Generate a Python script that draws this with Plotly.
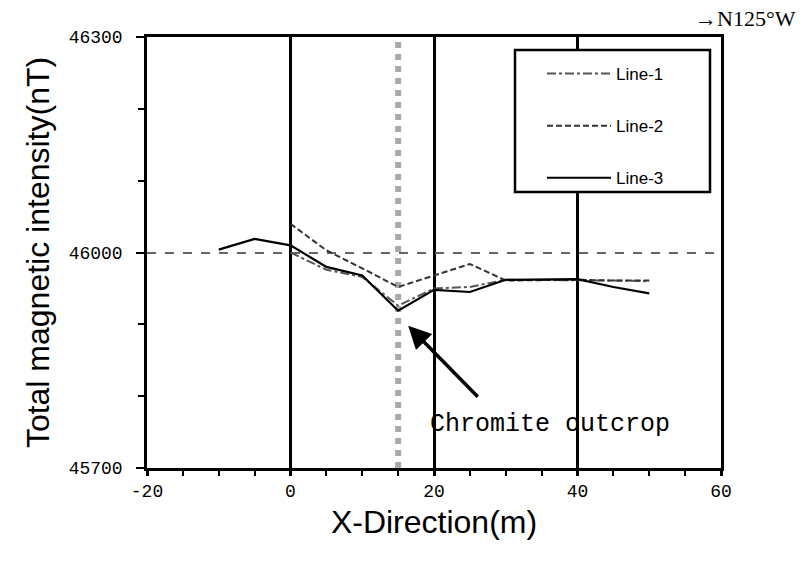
import plotly.graph_objects as go

# ---- data ----
x_line1 = [0, 5, 10, 15, 20, 25, 30, 35, 40, 45, 50]
y_line1 = [46000, 45976, 45966, 45926, 45950, 45952, 45962, 45962, 45962, 45961, 45960]

x_line2 = [0, 5, 10, 15, 20, 25, 30, 35, 40, 45, 50]
y_line2 = [46040, 46003, 45978, 45952, 45968, 45984, 45961, 45962, 45962, 45961, 45961]

x_line3 = [-10, -5, 0, 5, 10, 15, 20, 25, 30, 35, 40, 45, 50]
y_line3 = [46004, 46019, 46010, 45980, 45968, 45919, 45948, 45945, 45962, 45962, 45963, 45952, 45943]

series_names = ["Line-1", "Line-2", "Line-3"]
x_ticks = [-20, 0, 20, 40, 60]
y_ticks = [45700, 46000, 46300]
outcrop_x = 15
arrow_tip = (16.4, 45898)
arrow_tail = (26.3, 45797)
outcrop_label = "Chromite outcrop"

fig = go.Figure()
styles = [
    dict(color="#555555", dash="dashdot", width=2),
    dict(color="#333333", dash="6px,3px", width=2),
    dict(color="#000000", dash="solid", width=2.2),
]
for i, (xs, ys) in enumerate([(x_line1, y_line1), (x_line2, y_line2), (x_line3, y_line3)]):
    fig.add_trace(go.Scatter(x=xs, y=ys, mode="lines", name=series_names[i],
                             legendgroup=series_names[i], line=styles[i]))

# chromite outcrop dotted band
fig.add_shape(type="line", xref="x", yref="paper", x0=outcrop_x, x1=outcrop_x, y0=0, y1=1,
              line=dict(color="#aaaaaa", width=6, dash="dot"), layer="below")

# legend frame
L, R, T, B = 147, 721, 37, 468
def px2paper_x(p): return (p - L) / (R - L)
def px2paper_y(p): return (B - p) / (B - T)
fig.add_shape(type="rect", xref="paper", yref="paper",
              x0=px2paper_x(515), x1=px2paper_x(710), y0=px2paper_y(192), y1=px2paper_y(50),
              line=dict(color="black", width=2.5), fillcolor="white", layer="above")

# arrow
fig.add_annotation(x=arrow_tip[0], y=arrow_tip[1], ax=arrow_tail[0], ay=arrow_tail[1],
                   xref="x", yref="y", axref="x", ayref="y", text="",
                   showarrow=True, arrowhead=2, arrowsize=1.3, arrowwidth=3.5, arrowcolor="black")
fig.add_annotation(x=19.2, y=45761, xref="x", yref="y", text=outcrop_label, showarrow=False,
                   xanchor="left", yanchor="middle",
                   font=dict(family="Liberation Mono", size=25, color="black"))
fig.add_annotation(x=1.0, y=1.0, xref="paper", yref="paper", text="\u2192N125\u00b0W",
                   showarrow=False, xanchor="left", yanchor="bottom", xshift=-28, yshift=4,
                   font=dict(family="Liberation Serif", size=22, color="black"))

tickfont = dict(family="Liberation Mono", size=18, color="black")
fig.update_layout(
    width=810, height=564,
    margin=dict(l=L, r=810 - R, t=T, b=564 - B),
    paper_bgcolor="white", plot_bgcolor="white",
    showlegend=True,
    legend=dict(x=px2paper_x(542), y=px2paper_y(56), xanchor="left", yanchor="top",
                bgcolor="rgba(0,0,0,0)", borderwidth=0, tracegroupgap=27, itemwidth=64,
                font=dict(family="Liberation Sans", size=17, color="black")),
    xaxis=dict(range=[-20, 60], tickvals=x_ticks, ticktext=[str(v) for v in x_ticks],
               showgrid=True, gridcolor="black", gridwidth=2.5,
               showline=True, linecolor="black", linewidth=2.5, mirror=True,
               ticks="outside", ticklen=5, tickwidth=2.5, tickcolor="black",
               minor=dict(dtick=5, ticks="outside", ticklen=5, tickwidth=1.5, tickcolor="black", showgrid=False),
               tickfont=tickfont, zeroline=False,
               title=dict(text="X-Direction(m)", standoff=10,
                          font=dict(family="Liberation Sans", size=32, color="black"))),
    yaxis=dict(range=[45700, 46300], tickvals=y_ticks, ticktext=[str(v) for v in y_ticks],
               showgrid=True, gridcolor="#666666", gridwidth=1.8, griddash="dash",
               showline=True, linecolor="black", linewidth=2.5, mirror=True,
               ticks="outside", ticklen=8, tickwidth=1.5, tickcolor="black",
               minor=dict(dtick=100, ticks="outside", ticklen=6, tickwidth=1.5, tickcolor="black", showgrid=False),
               tickfont=tickfont, zeroline=False, ticklabelstandoff=10,
               title=dict(text="Total magnetic intensity(nT)", standoff=10,
                          font=dict(family="Liberation Sans", size=32, color="black"))),
)

fig.write_html("out.html", config={"displayModeBar": False},
               post_script="document.body.style.margin='0px';")
